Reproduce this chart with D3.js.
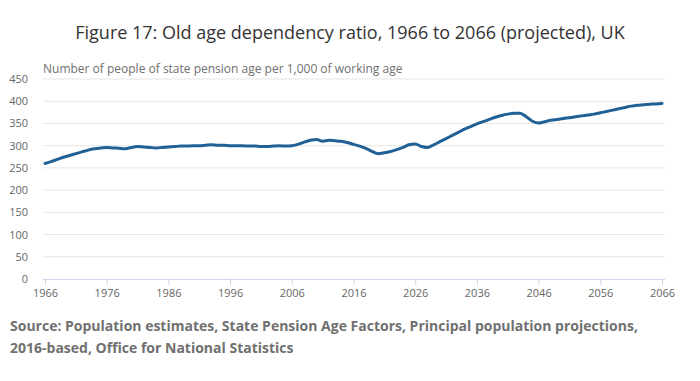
<!DOCTYPE html>
<html><head><meta charset="utf-8">
<script src="https://cdn.jsdelivr.net/npm/d3@7"></script>
<style>
body{margin:0;background:#fff;}
svg{display:block;font-family:"Open Sans",sans-serif;}
</style></head>
<body><svg id="c" width="700" height="381"></svg>
<script>
const years = d3.range(1966, 2067);
const ratio = [
260,264,269,274,278,282,286,290,293,295,
296,295,294,293,296,298,297,296,295,296,
297,298,299,299,300,300,301,302,301,301,
300,300,300,299,299,298,298,299,300,299,
300,303,308,312,314,310,312,311,310,307,
303,299,294,287,282,284,287,291,296,302,
304,298,296,302,309,316,323,330,337,343,
349,354,359,364,368,371,373,373,365,355,
351,354,357,359,361,363,365,367,369,371,
374,377,380,383,386,389,391,392,393,394,
395];
const yTicks = [0,50,100,150,200,250,300,350,400,450];
const xTicks = [1966,1976,1986,1996,2006,2016,2026,2036,2046,2056,2066];
const title = "Figure 17: Old age dependency ratio, 1966 to 2066 (projected), UK";
const subtitle = "Number of people of state pension age per 1,000 of working age";
const source = ["Source: Population estimates, State Pension Age Factors, Principal population projections,",
                "2016-based, Office for National Statistics"];

const svg = d3.select("#c");
const L = 43, R = 665, T = 79, B = 279;
const x = d3.scaleLinear().domain([1966, 2066]).range([45, 662]);
const y = d3.scaleLinear().domain([0, 450]).range([B, T]);

svg.append("text").attr("x", 350).attr("y", 39).attr("text-anchor", "middle")
  .attr("font-size", 18).attr("fill", "#333").text(title);
svg.append("text").attr("x", L).attr("y", 73)
  .attr("font-size", 12).attr("fill", "#707070").text(subtitle);

// grid
svg.append("g").selectAll("line").data(yTicks.filter(d => d > 0)).join("line")
  .attr("x1", L).attr("x2", R).attr("y1", d => y(d)).attr("y2", d => y(d))
  .attr("stroke", "#e6e6e6").attr("stroke-width", 1);

// y axis labels
const ya = svg.append("g").attr("transform", `translate(${L},0)`)
  .call(d3.axisLeft(y).tickValues(yTicks).tickSize(0).tickPadding(15));
ya.select(".domain").remove();
ya.selectAll("text").attr("font-family", "Open Sans").attr("font-size", 11).attr("fill", "#666");

// x axis
const xa = svg.append("g").attr("transform", `translate(0,${B})`)
  .call(d3.axisBottom(x).tickValues(xTicks).tickFormat(d3.format("d")).tickSize(6).tickPadding(4));
xa.select(".domain").attr("d", `M${L},0.5H${R}`).attr("stroke", "#ccd6eb");
xa.selectAll(".tick line").attr("stroke", "#ccd6eb");
xa.selectAll("text").attr("font-family", "Open Sans").attr("font-size", 11).attr("fill", "#666");

// line
const data = years.map((yr, i) => ({yr, v: ratio[i]}));
svg.append("path").datum(data)
  .attr("fill", "none").attr("stroke", "#206095").attr("stroke-width", 3)
  .attr("stroke-linejoin", "round").attr("stroke-linecap", "round")
  .attr("d", d3.line().x(d => x(d.yr)).y(d => y(d.v)).curve(d3.curveMonotoneX));

const st = svg.append("text").attr("font-size", 14).attr("font-weight", "bold").attr("fill", "#707070");
source.forEach((s, i) => st.append("tspan").attr("x", 10).attr("y", 331 + i * 22).text(s));
</script></body></html>
